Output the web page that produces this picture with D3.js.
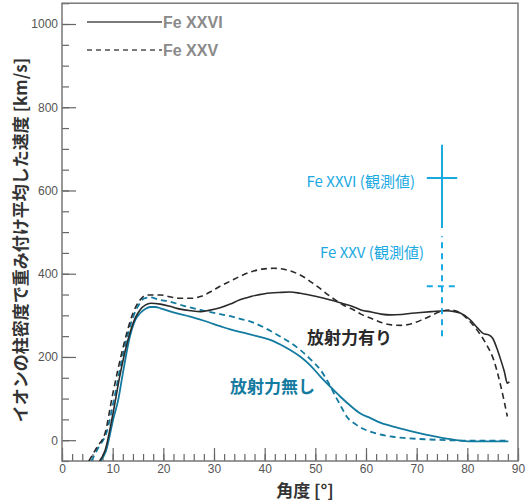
<!DOCTYPE html>
<meta charset="utf-8">
<style>
body { margin: 0; background: #fff; }
svg text { font-family: "Liberation Sans", "Noto Sans CJK JP", sans-serif; }
.jp { font-family: "Noto Sans CJK JP", sans-serif; }
.tick text { fill: #555; font-size: 12px; }
.tick line { stroke: #666; stroke-width: 1.2px; }
</style>
<svg width="530" height="503"></svg>
<script src="https://d3js.org/d3.v7.min.js"></script>
<script>

// angle [deg], velocity [km/s]
var radFe26 = [[7.4,-50],[8.5,-25],[10,60],[11.5,160],[13,240],[14.5,295],[15.4,313],[16.5,325],[17.5,329],[19.4,327],[21.5,321],[23.3,315],[25.5,311],[27.3,309],[29,312],[31.2,318],[33.2,327],[35,337],[37.2,345],[40,352],[43,355],[45,356],[47,353],[50,346],[53,337],[55.5,328],[57.6,320],[59,313],[61,308],[63,303],[64.8,301],[67,302],[69,305],[70.8,307],[73,309],[75.7,311],[77.5,309],[78.7,305],[80.5,290],[82,270],[83.2,256],[84.2,253],[85,245],[86,215],[86.6,193],[87.3,165],[87.9,137],[88.3,140]];
var radFe25 = [[5.3,-50],[7,-15],[8.5,17],[10,110],[12.1,225],[14,305],[15.4,337],[16.7,349],[19.4,349],[21.5,344],[23.3,341],[25.5,341],[27.3,345],[29.5,358],[31.2,370],[33.2,382],[35,393],[37.2,404],[39.5,411],[41.8,413],[44,410],[47,397],[50,373],[53,345],[55.5,325],[57.6,313],[59,303],[61,293],[63,283],[65,277],[67,276],[69,280],[71,289],[73,300],[74.7,309],[76.5,313],[78.7,305],[80.5,285],[82.6,253],[84,225],[85.2,193],[86.6,130],[87.9,57]];
var noRadFe26 = [[7.6,-50],[8.7,-25],[10.2,55],[11.1,97],[12,160],[13.4,249],[14.5,290],[15.4,305],[16.5,316],[17.4,320],[18.5,320],[19.4,317],[22,307],[25.3,297],[28,287],[31.2,274],[33.2,266],[36,258],[38.5,250],[41.1,241],[44,224],[47,201],[49,180],[51,153],[53,128],[54.9,105],[57,82],[58.9,64],[60.9,53],[62.8,42],[65,34],[68.8,22],[72,13],[74.7,6],[77.5,1],[80.6,-3],[84,-3],[88.1,-3]];
var noRadFe25 = [[5.8,-50],[7.3,-15],[8.7,15],[10.3,100],[12.2,215],[14,295],[15.4,330],[16.1,340],[17.5,343],[19,338],[21.3,333],[24,323],[27.3,313],[30,306],[31.2,303],[33.2,298],[35,292],[37.2,285],[40,270],[43.1,249],[45,235],[47,217],[49,195],[51,169],[52.5,140],[54,105],[55.2,78],[56.3,55],[58,38],[59,30],[61,20],[64.8,9],[68,5],[72,2],[76,0],[80,-1],[84,-1],[88.1,-1]];

// observed: angle, angle error, velocity, velocity error (low / high)
var obsFe26 = {x: 75, dx: 3, y: 630, dyLo: 120, dyHi: 80};
var obsFe25 = {x: 75, dx: 3, y: 370, dyLo: 120, dyHi: 120};

var xTicks = d3.range(0, 91, 10);
var xMinor = d3.range(0, 91, 2);
var yTicks = d3.range(0, 1001, 200);
var yMinor = d3.range(-50, 1051, 50);

var svg = d3.select("svg");
var pl = 62, pr = 518, pt = 3.2, pb = 461;

var x = d3.scaleLinear().domain([0, 90]).range([pl, pr]);
var y = d3.scaleLinear().domain([-50, 1050]).range([pb, pt]);

var black = "#2a2a2a", teal = "#137aa0", cyan = "#1ba9e2";

svg.append("clipPath").attr("id", "plot")
  .append("rect").attr("x", pl).attr("y", pt).attr("width", pr - pl).attr("height", pb - pt);

// axes with inward ticks
svg.append("g").attr("transform", "translate(0," + pb + ")")
  .call(d3.axisBottom(x).tickValues(xMinor).tickSizeInner(-7).tickSizeOuter(0).tickFormat(""))
  .call(function(g) { g.select(".domain").remove(); });
svg.append("g").attr("transform", "translate(0," + pb + ")")
  .call(d3.axisBottom(x).tickValues(xTicks).tickSizeInner(-13).tickSizeOuter(0).tickPadding(3))
  .call(function(g) { g.select(".domain").remove(); });

svg.append("g").attr("transform", "translate(" + pl + ",0)")
  .call(d3.axisLeft(y).tickValues(yMinor).tickSizeInner(-7).tickSizeOuter(0).tickFormat(""))
  .call(function(g) { g.select(".domain").remove(); });
svg.append("g").attr("transform", "translate(" + pl + ",0)")
  .call(d3.axisLeft(y).tickValues(yTicks).tickSizeInner(-14).tickSizeOuter(0).tickPadding(4).tickFormat(d3.format("d")))
  .call(function(g) { g.select(".domain").remove(); });

svg.append("rect")
  .attr("x", pl).attr("y", pt).attr("width", pr - pl).attr("height", pb - pt)
  .attr("fill", "none").attr("stroke", "#777").attr("stroke-width", 1.5);

var line = d3.line()
  .x(function(d) { return x(d[0]); })
  .y(function(d) { return y(d[1]); })
  .curve(d3.curveMonotoneX);

var series = [
  {data: noRadFe25, color: teal, dash: "6,4", w: 1.8},
  {data: noRadFe26, color: teal, dash: null, w: 1.8},
  {data: radFe25, color: black, dash: "6,4", w: 1.6},
  {data: radFe26, color: black, dash: null, w: 1.6}
];

svg.append("g").attr("clip-path", "url(#plot)")
  .selectAll("path").data(series).enter().append("path")
  .attr("d", function(d) { return line(d.data); })
  .attr("fill", "none")
  .attr("stroke", function(d) { return d.color; })
  .attr("stroke-width", function(d) { return d.w; })
  .attr("stroke-dasharray", function(d) { return d.dash; });

// observations
function errBar(o, dash) {
  var g = svg.append("g").attr("stroke", cyan).attr("stroke-width", 2).attr("stroke-dasharray", dash);
  g.append("line").attr("x1", x(o.x)).attr("x2", x(o.x)).attr("y1", y(o.y - o.dyLo)).attr("y2", y(o.y + o.dyHi));
  g.append("line").attr("x1", x(o.x - o.dx)).attr("x2", x(o.x + o.dx)).attr("y1", y(o.y)).attr("y2", y(o.y));
}
errBar(obsFe26, null);
errBar(obsFe25, "6,5");

svg.append("text").attr("class", "jp")
  .attr("x", 415).attr("y", 182).attr("dy", "0.35em").attr("text-anchor", "end")
  .attr("fill", cyan).style("font-size", "15px").text("Fe XXVI (観測値)");
svg.append("text").attr("class", "jp")
  .attr("x", 424).attr("y", 253).attr("dy", "0.35em").attr("text-anchor", "end")
  .attr("fill", cyan).style("font-size", "15px").text("Fe XXV (観測値)");

svg.append("text").attr("class", "jp")
  .attr("x", 307).attr("y", 338).attr("dy", "0.35em")
  .attr("fill", black).style("font-size", "17px").style("font-weight", "bold").text("放射力有り");
svg.append("text").attr("class", "jp")
  .attr("x", 230).attr("y", 387).attr("dy", "0.35em")
  .attr("fill", teal).style("font-size", "17px").style("font-weight", "bold").text("放射力無し");

// legend
var legend = [{label: "Fe XXVI", dash: null, yy: 22}, {label: "Fe XXV", dash: "5,4", yy: 50}];
var lg = svg.append("g").selectAll("g").data(legend).enter().append("g");
lg.append("line").attr("x1", 87).attr("x2", 162)
  .attr("y1", function(d) { return d.yy; }).attr("y2", function(d) { return d.yy; })
  .attr("stroke", "#7a7a7a").attr("stroke-width", 2)
  .attr("stroke-dasharray", function(d) { return d.dash; });
lg.append("text").attr("x", 163).attr("y", function(d) { return d.yy; }).attr("dy", "0.35em")
  .attr("fill", "#8a8a8a").style("font-size", "16px").style("font-weight", "bold")
  .text(function(d) { return d.label; });

// axis titles
svg.append("text").attr("class", "jp")
  .attr("x", 305).attr("y", 497).attr("text-anchor", "middle")
  .attr("fill", "#333").style("font-size", "17px").style("font-weight", "bold").text("角度 [°]");
svg.append("text").attr("class", "jp")
  .attr("transform", "translate(27,240) rotate(-90)").attr("text-anchor", "middle")
  .attr("fill", "#333").style("font-size", "17px").style("font-weight", "bold")
  .text("イオンの柱密度で重み付け平均した速度 [km/s]");

</script>
